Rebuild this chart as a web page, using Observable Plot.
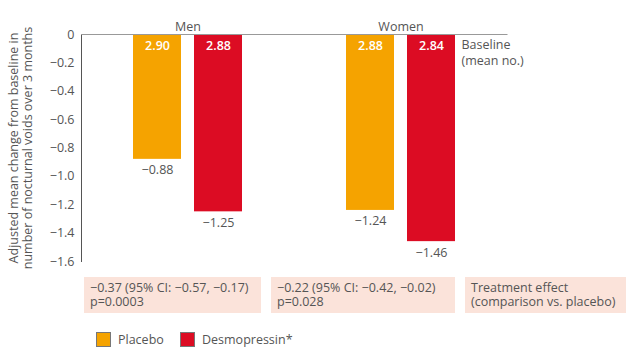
<!DOCTYPE html>
<html>
<head>
<meta charset="utf-8">
<script src="https://cdn.jsdelivr.net/npm/d3@7"></script>
<script src="https://cdn.jsdelivr.net/npm/@observablehq/plot@0.6"></script>
<style>
  body { margin: 0; background: #fff; font-family: "Open Sans", sans-serif; color: #555; }
  #wrap { position: relative; width: 631px; height: 359px; }
  .box { position: absolute; top: 277px; height: 36px; background: #FBE3DA; box-sizing: border-box;
         padding: 4px 0 0 6px; font-size: 12.5px; line-height: 14px; white-space: pre; color: #555; }
  .leg { position: absolute; top: 331px; display: flex; align-items: center; font-size: 12.5px; color: #555; }
  .sw { width: 13px; height: 13px; border: 1px solid #777; margin-right: 7px; }
</style>
</head>
<body>
<div id="wrap"><div id="chart"></div></div>
<script>
const groups = ["Men", "Women"];
const treatments = ["Placebo", "Desmopressin*"];
const placeboChange = [-0.88, -1.24];
const desmoChange = [-1.25, -1.46];
const placeboBaseline = ["2.90", "2.88"];
const desmoBaseline = ["2.88", "2.84"];
const yTicks = [0, -0.2, -0.4, -0.6, -0.8, -1.0, -1.2, -1.4, -1.6];
const effectTexts = [
  "\u22120.37 (95% CI: \u22120.57, \u22120.17)\np=0.0003",
  "\u22120.22 (95% CI: \u22120.42, \u22120.02)\np=0.028",
  "Treatment effect\n(comparison vs. placebo)"
];
const baselineNote = "Baseline\n(mean no.)";
const yLabel = "Adjusted mean change from baseline in\nnumber of nocturnal voids over 3 months";
const colors = ["#F5A300", "#DC0C23"];

const placeboRows = groups.map((g, i) => ({group: g, change: placeboChange[i], baseline: placeboBaseline[i]}));
const desmoRows = groups.map((g, i) => ({group: g, change: desmoChange[i], baseline: desmoBaseline[i]}));
const fmt = d3.format(".2f");

const chart = Plot.plot({
  width: 631,
  height: 272,
  marginLeft: 81,
  marginRight: 123.5,
  marginTop: 34,
  marginBottom: 11,
  style: {fontFamily: "Open Sans, sans-serif", fontSize: "12.5px", color: "#555", background: "transparent"},
  x: {domain: groups, paddingInner: 0.4895, paddingOuter: 0.2436, axis: "top", tickSize: 0, tickPadding: 4, label: null},
  y: {domain: [-1.6, 0], ticks: yTicks, tickFormat: d => d === 0 ? "0" : d3.format(".1f")(d), tickSize: 0, tickPadding: 7, label: null, line: true},
  marks: [
    Plot.barY(placeboRows, {x: "group", y: "change", fill: colors[0], insetRight: 61}),
    Plot.barY(desmoRows, {x: "group", y: "change", fill: colors[1], insetLeft: 61}),
    Plot.ruleY([0], {stroke: "#999"}),
    Plot.text(placeboRows, {x: "group", y: 0, text: "baseline", dx: -30.5, dy: 11, fill: "white", fontSize: 12.5, fontWeight: 600}),
    Plot.text(desmoRows, {x: "group", y: 0, text: "baseline", dx: 30.5, dy: 11, fill: "white", fontSize: 12.5, fontWeight: 600}),
    Plot.text(placeboRows, {x: "group", y: "change", text: d => fmt(d.change), dx: -30.5, dy: 11, fill: "#555"}),
    Plot.text(desmoRows, {x: "group", y: "change", text: d => fmt(d.change), dx: 30.5, dy: 11, fill: "#555"}),
    Plot.text([baselineNote], {x: [groups[1]], y: [0], text: d => d, dx: 60.5, dy: 4, textAnchor: "start", lineAnchor: "top", lineHeight: 1.22, fill: "#555"}),
    Plot.text([yLabel], {text: d => d, frameAnchor: "left", textAnchor: "middle", dx: -61, rotate: -90, lineHeight: 1.12, fill: "#555"})
  ]
});
document.getElementById("chart").appendChild(chart);

const wrap = document.getElementById("wrap");
const boxPos = [[84, 177], [271, 184], [465, 161]];
effectTexts.forEach((t, i) => {
  const b = document.createElement("div");
  b.className = "box";
  b.style.left = boxPos[i][0] + "px";
  b.style.width = boxPos[i][1] + "px";
  b.textContent = t;
  wrap.appendChild(b);
});
const legPos = [96, 180];
treatments.forEach((t, i) => {
  const l = document.createElement("div");
  l.className = "leg";
  l.style.left = legPos[i] + "px";
  const sw = document.createElement("div");
  sw.className = "sw";
  sw.style.background = colors[i];
  l.appendChild(sw);
  const s = document.createElement("span");
  s.textContent = t;
  l.appendChild(s);
  wrap.appendChild(l);
});
</script>
</body>
</html>
